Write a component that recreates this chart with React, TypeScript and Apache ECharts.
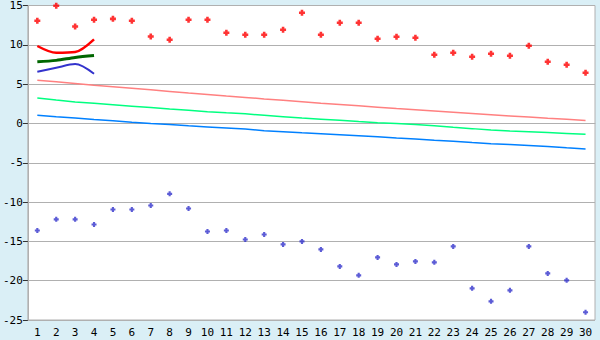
import React, { useEffect, useRef } from "react";
import * as echarts from "echarts";

const categories = ["1","2","3","4","5","6","7","8","9","10","11","12","13","14","15","16","17","18","19","20","21","22","23","24","25","26","27","28","29","30"];

const redPoints = [13.06, 14.96, 12.33, 13.18, 13.3, 13.06, 11.06, 10.64, 13.18, 13.18, 11.53, 11.27, 11.27, 11.91, 14.07, 11.27, 12.8, 12.8, 10.77, 11.02, 10.9, 8.74, 8.99, 8.48, 8.86, 8.61, 9.88, 7.85, 7.47, 6.45];
const bluePoints = [-13.62, -12.2, -12.2, -12.85, -10.95, -10.95, -10.44, -8.95, -10.82, -13.75, -13.62, -14.76, -14.12, -15.39, -15.0, -16.02, -18.18, -19.32, -17.04, -17.93, -17.55, -17.67, -15.64, -20.97, -22.63, -21.23, -15.64, -19.07, -19.96, -24.02];

const redShort = [9.85, 8.98, 9.08, 10.7];
const greenShort = [7.84, 8.02, 8.4, 8.65];
const blueShort = [6.57, 7.08, 7.55, 6.32];

const pinkLine = [5.5, 5.29, 5.08, 4.87, 4.67, 4.47, 4.27, 4.07, 3.87, 3.68, 3.49, 3.31, 3.12, 2.94, 2.76, 2.58, 2.41, 2.24, 2.07, 1.9, 1.74, 1.58, 1.42, 1.26, 1.11, 0.96, 0.81, 0.66, 0.52, 0.38];
const springLine = [3.25, 2.98, 2.73, 2.56, 2.38, 2.2, 2.03, 1.84, 1.68, 1.5, 1.35, 1.22, 1.04, 0.86, 0.68, 0.54, 0.4, 0.24, 0.1, -0.02, -0.15, -0.3, -0.5, -0.66, -0.83, -0.97, -1.06, -1.16, -1.27, -1.375];
const azureLine = [1.04, 0.85, 0.68, 0.5, 0.34, 0.15, 0.0, -0.12, -0.3, -0.44, -0.57, -0.72, -0.92, -1.05, -1.18, -1.3, -1.43, -1.56, -1.7, -1.85, -1.97, -2.13, -2.26, -2.44, -2.57, -2.68, -2.8, -2.94, -3.1, -3.25];

const yMin = -25;
const yMax = 15;
const yStep = 5;

const cross = "path://M2,0H5V2H7V5H5V7H2V5H0V2H2Z";

export default function App() {
  const ref = useRef<HTMLDivElement>(null);
  useEffect(() => {
    if (!ref.current) return;
    const chart = echarts.init(ref.current, undefined, { renderer: "svg" });
    const font = { fontFamily: "DejaVu Sans Mono", fontSize: 11, color: "#000" };
    chart.setOption({
      animation: false,
      backgroundColor: "#daeff6",
      grid: {
        left: 27, right: 5, top: 5, bottom: 20,
        show: true, backgroundColor: "#ffffff", borderColor: "#b0b0b0", borderWidth: 1,
      },
      xAxis: {
        type: "category",
        data: categories,
        boundaryGap: true,
        axisLine: { lineStyle: { color: "#b0b0b0", width: 1 } },
        axisTick: { alignWithLabel: true, length: 6, lineStyle: { color: "#333" } },
        axisLabel: { ...font, margin: 7, interval: 0 },
        splitLine: { show: false },
      },
      yAxis: {
        type: "value",
        min: yMin, max: yMax, interval: yStep,
        axisLine: { show: true, lineStyle: { color: "#b0b0b0" } },
        axisTick: { show: true, length: 5, lineStyle: { color: "#333" } },
        axisLabel: { ...font, margin: 5 },
        splitLine: { lineStyle: { color: "#b0b0b0", width: 1 } },
      },
      series: [
        { type: "line", data: pinkLine, symbol: "none", lineStyle: { color: "#ff8080", width: 1.5 }, z: 2 },
        { type: "line", data: springLine, symbol: "none", lineStyle: { color: "#00ff80", width: 1.5 }, z: 2 },
        { type: "line", data: azureLine, symbol: "none", lineStyle: { color: "#0080ff", width: 1.5 }, z: 2 },
        { type: "line", data: redShort, symbol: "none", smooth: 0.3, lineStyle: { color: "#ff0000", width: 2.5 }, z: 3 },
        { type: "line", data: greenShort, symbol: "none", smooth: 0.3, lineStyle: { color: "#006600", width: 3 }, z: 3 },
        { type: "line", data: blueShort, symbol: "none", smooth: 0.3, lineStyle: { color: "#3333cc", width: 2 }, z: 3 },
        { type: "scatter", data: redPoints, symbol: cross, symbolSize: 6, itemStyle: { color: "#ff0000" }, z: 4 },
        { type: "scatter", data: bluePoints, symbol: cross, symbolSize: 5, itemStyle: { color: "#3333cc" }, z: 4 },
      ],
    });
    return () => chart.dispose();
  }, []);
  return <div ref={ref} style={{ position: "absolute", left: 0, top: 0, width: 600, height: 340 }} />;
}
